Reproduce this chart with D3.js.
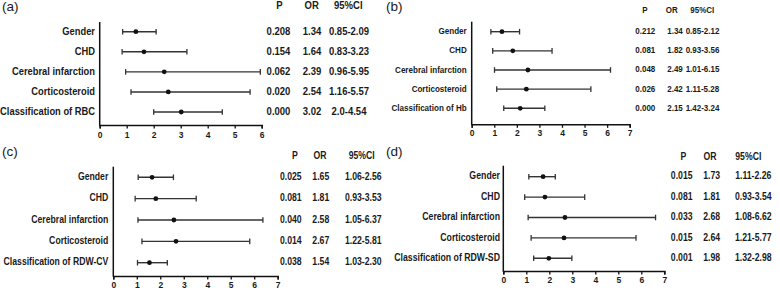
<!DOCTYPE html>
<html><head><meta charset="utf-8">
<script src="https://cdn.jsdelivr.net/npm/d3@7"></script>
<style>
html,body{margin:0;padding:0;background:#fff;}
text{font-family:"Liberation Sans",Arial,sans-serif;fill:#1a1a1a;}
</style></head>
<body><svg id="chart" width="780" height="290"></svg>
<script>
// ---- data ----
const catsA = ["Gender","CHD","Cerebral infarction","Corticosteroid","Classification of RBC"];
const pA = ["0.208","0.154","0.062","0.020","0.000"];
const orA = [1.34,1.64,2.39,2.54,3.02];
const lowA = [0.85,0.83,0.96,1.16,2.0];
const highA = [2.09,3.23,5.95,5.57,4.54];
const ciA = ["0.85-2.09","0.83-3.23","0.96-5.95","1.16-5.57","2.0-4.54"];

const catsB = ["Gender","CHD","Cerebral infarction","Corticosteroid","Classification of Hb"];
const pB = ["0.212","0.081","0.048","0.026","0.000"];
const orB = [1.34,1.82,2.49,2.42,2.15];
const lowB = [0.85,0.93,1.01,1.11,1.42];
const highB = [2.12,3.56,6.15,5.28,3.24];
const ciB = ["0.85-2.12","0.93-3.56","1.01-6.15","1.11-5.28","1.42-3.24"];

const catsC = ["Gender","CHD","Cerebral infarction","Corticosteroid","Classification of RDW-CV"];
const pC = ["0.025","0.081","0.040","0.014","0.038"];
const orC = [1.65,1.81,2.58,2.67,1.54];
const lowC = [1.06,0.93,1.05,1.22,1.03];
const highC = [2.56,3.53,6.37,5.81,2.30];
const ciC = ["1.06-2.56","0.93-3.53","1.05-6.37","1.22-5.81","1.03-2.30"];

const catsD = ["Gender","CHD","Cerebral infarction","Corticosteroid","Classification of RDW-SD"];
const pD = ["0.015","0.081","0.033","0.015","0.001"];
const orD = [1.73,1.81,2.68,2.64,1.98];
const lowD = [1.11,0.93,1.08,1.21,1.32];
const highD = [2.26,3.54,6.62,5.77,2.98];
const ciD = ["1.11-2.26","0.93-3.54","1.08-6.62","1.21-5.77","1.32-2.98"];

const headers = ["P","OR","95%CI"];
const ticksA = [0,1,2,3,4,5,6];
const ticks7 = [0,1,2,3,4,5,6,7];

// ---- layout ----
const svg = d3.select("#chart");
const SX = 0.85; // condensed bold look
const panels = [
  {tag:"(a)", tagX:2, tagY:11, cats:catsA, p:pA, or:orA, lo:lowA, hi:highA, ci:ciA, ticks:ticksA,
   x0:99.7, x1:261.7, top:22, base:125, r0:31.7, r1:112, lf:11, vf:11.2, hy:6.5,
   cols:[278.5,312,349], hcols:[279.3,311.7,348.3], lr:95, ty:135.5},
  {tag:"(b)", tagX:386, tagY:11, cats:catsB, p:pB, or:orB, lo:lowB, hi:highB, ci:ciB, ticks:ticks7,
   x0:471.7, x1:629.7, top:21.7, base:124.3, r0:31.7, r1:108.3, lf:9.5, vf:9.4, hy:11,
   cols:[645.3,675,702.5], hcols:[645,671.7,702.3], lr:466.7, ty:134},
  {tag:"(c)", tagX:2, tagY:155.5, cats:catsC, p:pC, or:orC, lo:lowC, hi:highC, ci:ciC, ticks:ticks7,
   x0:113.3, x1:277.7, top:166.7, base:276, r0:177.3, r1:262.7, lf:10.2, vf:10.2, hy:156.7,
   cols:[290.8,320.8,363.3], hcols:[295,320,361.7], lr:108.3, ty:285.5},
  {tag:"(d)", tagX:386, tagY:155.5, cats:catsD, p:pD, or:orD, lo:lowD, hi:highD, ci:ciD, ticks:ticks7,
   x0:503.3, x1:664.3, top:165.7, base:271, r0:176.7, r1:258.3, lf:10.3, vf:10.2, hy:157.3,
   cols:[681.7,711.7,753.3], hcols:[683.3,710,748.3], lr:500, ty:280.5}
];

function ctext(sel, fx, fy, size, anchor) {
  return sel.attr("transform", (d,i) => `translate(${fx(d,i)},${fy(d,i)}) scale(${SX},1)`)
    .attr("x",0).attr("y",0)
    .attr("text-anchor", anchor).attr("dominant-baseline","middle")
    .style("font-size", size+"px").style("font-weight","bold");
}

panels.forEach(P => {
  const g = svg.append("g");
  const x = d3.scaleLinear().domain([0, d3.max(P.ticks)]).range([P.x0, P.x1]);
  const y = d3.scalePoint().domain(P.cats).range([P.r0, P.r1]);

  // panel tag
  g.append("text").attr("x", P.tagX).attr("y", P.tagY)
    .style("font-size","13.5px").text(P.tag);

  // x axis
  const xa = g.append("g").attr("transform", `translate(0,${P.base})`)
    .call(d3.axisBottom(x).tickValues(P.ticks).tickSize(3.5).tickPadding(2).tickFormat(d3.format("d")));
  xa.select(".domain").attr("stroke","#111").attr("stroke-width",1.5);
  xa.selectAll(".tick line").attr("stroke","#111").attr("stroke-width",1.3);
  xa.selectAll(".tick text").attr("y", P.ty - P.base).attr("dy",null).attr("dominant-baseline","middle")
    .style("font-size","8.5px").style("font-weight","bold").style("font-family","'Liberation Sans',Arial,sans-serif").attr("fill","#1a1a1a");

  // y axis line
  g.append("line").attr("x1",P.x0).attr("x2",P.x0).attr("y1",P.top).attr("y2",P.base+0.75)
    .attr("stroke","#111").attr("stroke-width",1.5);

  // category labels
  ctext(g.selectAll(".lab").data(P.cats).join("text"), () => P.lr, d => y(d), P.lf, "end").text(d => d);

  // error bars
  const idx = d3.range(P.cats.length);
  g.selectAll(".ci").data(idx).join("line")
    .attr("x1", i => x(P.lo[i])).attr("x2", i => x(P.hi[i]))
    .attr("y1", i => y(P.cats[i])).attr("y2", i => y(P.cats[i]))
    .attr("stroke","#333").attr("stroke-width",1.4);
  ["lo","hi"].forEach(k => {
    g.selectAll(".cap"+k).data(idx).join("line")
      .attr("x1", i => x(P[k][i])).attr("x2", i => x(P[k][i]))
      .attr("y1", i => y(P.cats[i]) - 2.8).attr("y2", i => y(P.cats[i]) + 2.8)
      .attr("stroke","#333").attr("stroke-width",1.3);
  });
  g.selectAll(".pt").data(idx).join("circle")
    .attr("cx", i => x(P.or[i])).attr("cy", i => y(P.cats[i])).attr("r", 2.4).attr("fill","#111");

  // headers
  ctext(g.selectAll(".hd").data(headers).join("text"), (d,j) => P.hcols[j], () => P.hy, P.vf, "middle").text(d => d);

  // value columns
  const cols = [P.p, P.or.map(v => v.toFixed(2)), P.ci];
  cols.forEach((arr, j) => {
    ctext(g.selectAll(".v"+j).data(arr).join("text"), () => P.cols[j], (d,i) => y(P.cats[i]), P.vf, "middle").text(d => d);
  });
});
</script></body></html>
